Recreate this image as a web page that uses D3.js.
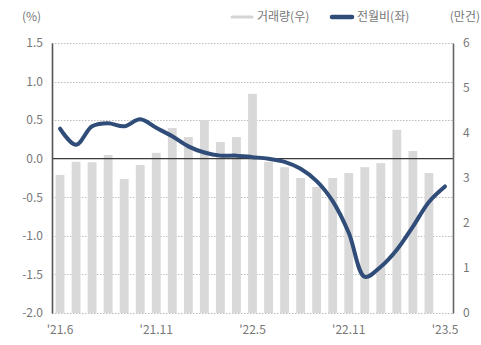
<!DOCTYPE html>
<html>
<head>
<meta charset="utf-8">
<script src="https://cdn.jsdelivr.net/npm/d3@7"></script>
<style>
  body { margin: 0; background: #fff; }
  svg { display: block; font-family: "Noto Sans CJK KR", "Noto Sans", sans-serif; }
</style>
</head>
<body>
<svg id="chart" width="481" height="345"></svg>
<script>
// Monthly categories ('21.5 – '23.5)
const months = [
  "'21.5", "'21.6", "'21.7", "'21.8", "'21.9", "'21.10", "'21.11", "'21.12",
  "'22.1", "'22.2", "'22.3", "'22.4", "'22.5", "'22.6", "'22.7", "'22.8",
  "'22.9", "'22.10", "'22.11", "'22.12", "'23.1", "'23.2", "'23.3", "'23.4", "'23.5"
];
// Transaction volume, right axis (만건)
const volume = [
  3.07, 3.36, 3.35, 3.51, 2.98, 3.29, 3.56, 4.11, 3.91, 4.29, 3.80, 3.91,
  4.87, 3.36, 3.24, 3.00, 2.80, 3.00, 3.11, 3.24, 3.33, 4.07, 3.60, 3.11
];
// Month-over-month change, left axis (%)
const momChange = [
  0.39, 0.18, 0.42, 0.46, 0.42, 0.51, 0.40, 0.29, 0.16, 0.08, 0.04, 0.04,
  0.02, 0.00, -0.04, -0.13, -0.29, -0.55, -0.96, -1.53, -1.40, -1.18, -0.88, -0.56, -0.36
];
const tickMonths = ["'21.5", "'21.11", "'22.5", "'22.11", "'23.5"];
const tickLabels = ["'21.6", "'21.11", "'22.5", "'22.11", "'23.5"];
const leftTicks = [1.5, 1.0, 0.5, 0.0, -0.5, -1.0, -1.5, -2.0];
const rightTicks = [6, 5, 4, 3, 2, 1, 0];
const legendItems = [
  { label: "거래량(우)", color: "#d4d4d4", width: 3 },
  { label: "전월비(좌)", color: "#2f4d78", width: 4.5 }
];

const svg = d3.select("#chart");
const W = 481, H = 345;
const plot = { left: 52, right: 453, top: 43, bottom: 313 };

svg.append("rect").attr("width", W).attr("height", H).attr("fill", "#fff");

const x = d3.scaleBand()
  .domain(months)
  .range([plot.left, plot.right])
  .paddingInner(0.45)
  .paddingOuter(0.225);

const yL = d3.scaleLinear().domain([-2.0, 1.5]).range([plot.bottom, plot.top]);
const yR = d3.scaleLinear().domain([0, 6]).range([plot.bottom, plot.top]);

// dotted gridlines
svg.append("g")
  .selectAll("line")
  .data(leftTicks.filter(d => d !== 0))
  .join("line")
  .attr("x1", plot.left).attr("x2", plot.right)
  .attr("y1", d => Math.round(yL(d)) + 0.5).attr("y2", d => Math.round(yL(d)) + 0.5)
  .attr("stroke", "#bdbdbd")
  .attr("stroke-width", 1)
  .attr("stroke-dasharray", "1.5,1.5");

// volume bars
svg.append("g")
  .selectAll("rect")
  .data(volume)
  .join("rect")
  .attr("x", (d, i) => x(months[i]))
  .attr("width", x.bandwidth())
  .attr("y", d => yR(d))
  .attr("height", d => yR(0) - yR(d))
  .attr("fill", "#d9d9d9");

// zero line
svg.append("line")
  .attr("x1", plot.left).attr("x2", plot.right)
  .attr("y1", yL(0)).attr("y2", yL(0))
  .attr("stroke", "#3a3a3a")
  .attr("stroke-width", 1.3);

// left axis
const fmt = d => d.toFixed(1);
const axL = svg.append("g")
  .attr("transform", `translate(${plot.left},0)`)
  .call(d3.axisLeft(yL).tickValues(leftTicks).tickFormat(fmt).tickSize(0).tickPadding(9));
axL.select(".domain").attr("stroke", "#555").attr("stroke-width", 1.6);

// right axis
const axR = svg.append("g")
  .attr("transform", `translate(${plot.right},0)`)
  .call(d3.axisRight(yR).tickValues(rightTicks).tickFormat(d3.format("d")).tickSize(0).tickPadding(10));
axR.select(".domain").attr("stroke", "#666").attr("stroke-width", 1.6);

// bottom axis
const axB = svg.append("g")
  .attr("transform", `translate(0,${plot.bottom})`)
  .call(d3.axisBottom(x).tickValues(tickMonths)
    .tickFormat(d => tickLabels[tickMonths.indexOf(d)])
    .tickSize(0).tickPadding(12));
axB.select(".domain").remove();

svg.selectAll(".tick text")
  .attr("fill", "#777")
  .attr("font-size", 12)
  .attr("font-family", "\"Noto Sans CJK KR\", \"Noto Sans\", sans-serif");

// month-over-month line
const line = d3.line()
  .x((d, i) => x(months[i]) + x.bandwidth() / 2)
  .y(d => yL(d))
  .curve(d3.curveCatmullRom.alpha(0.5));

svg.append("path")
  .datum(momChange)
  .attr("d", line)
  .attr("fill", "none")
  .attr("stroke", "#2f4d78")
  .attr("stroke-width", 4)
  .attr("stroke-linejoin", "round")
  .attr("stroke-linecap", "round");

// unit labels
svg.append("text")
  .attr("x", 22).attr("y", 21)
  .attr("font-size", 12).attr("fill", "#777")
  .text("(%)");
svg.append("text")
  .attr("x", 480).attr("y", 21)
  .attr("text-anchor", "end")
  .attr("font-size", 12).attr("fill", "#777")
  .text("(만건)");

// legend
const lg = svg.append("g");
const legendX = [232, 332];
legendItems.forEach((item, i) => {
  const g = lg.append("g").attr("transform", `translate(${legendX[i]},17)`);
  g.append("line")
    .attr("x1", 0).attr("x2", 20)
    .attr("y1", 0).attr("y2", 0)
    .attr("stroke", item.color)
    .attr("stroke-width", item.width)
    .attr("stroke-linecap", "round");
  g.append("text")
    .attr("x", 25).attr("y", 4)
    .attr("font-size", 12).attr("fill", "#777")
    .text(item.label);
});
</script>
</body>
</html>
